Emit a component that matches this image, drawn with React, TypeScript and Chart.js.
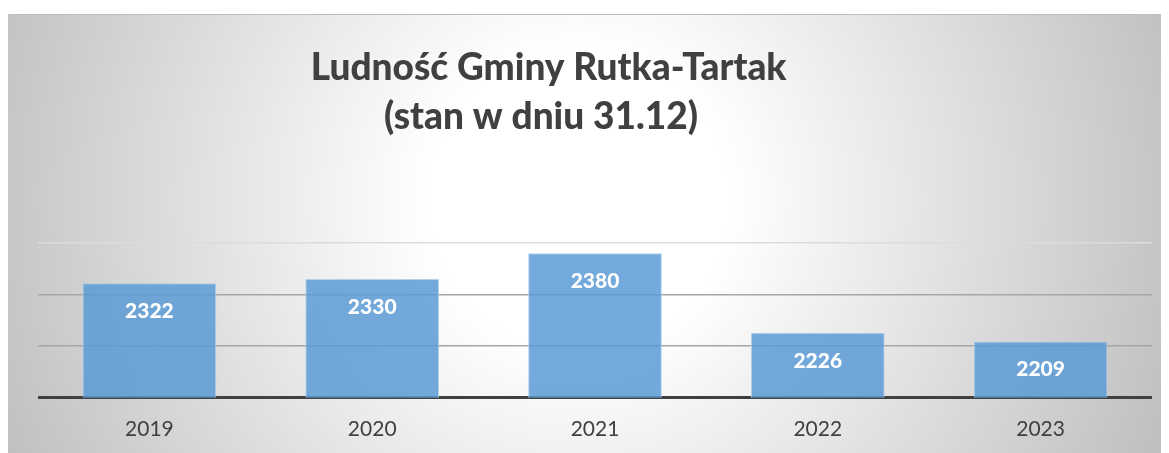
import { useEffect, useRef } from "react";
import { Chart, registerables } from "chart.js";

Chart.register(...registerables);

const titleLines = ["Ludność Gminy Rutka-Tartak", "(stan w dniu 31.12)"];
const categories = ["2019", "2020", "2021", "2022", "2023"];
const population = [2322, 2330, 2380, 2226, 2209];
const yMin = 2100;
const yMax = 2400;
const yStep = 100;

const FONT = "Lato, 'Open Sans', sans-serif";

const backgroundPlugin = {
  id: "bgGradient",
  beforeDraw(chart: any) {
    const { ctx, width, height } = chart;
    ctx.save();
    const cx = 570;
    const cy = 186;
    const g = ctx.createRadialGradient(cx, cy, 0, cx, cy, 625);
    g.addColorStop(0, "#ffffff");
    g.addColorStop(0.24, "#ffffff");
    g.addColorStop(1, "#c0c0c0");
    ctx.fillStyle = g;
    ctx.fillRect(0, 0, width, height);
    ctx.fillStyle = "#bcbcbc";
    ctx.fillRect(0, 0, width, 1);
    ctx.restore();
  },
};

const titlePlugin = {
  id: "customTitle",
  afterDraw(chart: any) {
    const { ctx } = chart;
    ctx.save();
    ctx.fillStyle = "#404040";
    ctx.textAlign = "center";
    ctx.textBaseline = "alphabetic";
    ctx.font = `900 37px ${FONT}`;
    ctx.fillText(titleLines[0], 540.7, 66);
    ctx.fillText(titleLines[1], 533, 115);
    ctx.restore();
  },
};

const valueLabelPlugin = {
  id: "valueLabels",
  afterDatasetsDraw(chart: any) {
    const { ctx } = chart;
    const meta = chart.getDatasetMeta(0);
    ctx.save();
    ctx.fillStyle = "#ffffff";
    ctx.textAlign = "center";
    ctx.textBaseline = "middle";
    ctx.font = `900 21px ${FONT}`;
    meta.data.forEach((bar: any, i: number) => {
      ctx.fillText(String(population[i]), bar.x, bar.y + 28);
    });
    ctx.restore();
  },
};

export default function App() {
  const canvasRef = useRef<HTMLCanvasElement | null>(null);

  useEffect(() => {
    document.body.style.overflow = "hidden";
    const canvas = canvasRef.current;
    if (!canvas) return;
    const chart = new Chart(canvas, {
      type: "bar",
      data: {
        labels: categories,
        datasets: [
          {
            data: population,
            backgroundColor: "rgba(91,155,213,0.85)",
            borderColor: "rgba(170,205,236,0.9)",
            borderWidth: 1,
            categoryPercentage: 1,
            barPercentage: 0.6,
          },
        ],
      },
      options: {
        responsive: false,
        animation: false,
        layout: { padding: { left: 30, right: 16, top: 229, bottom: 0 } },
        plugins: {
          legend: { display: false },
          title: { display: false },
          tooltip: { enabled: false },
        },
        scales: {
          x: {
            grid: { display: false, drawTicks: false },
            border: { display: false },
            ticks: {
              color: "#404040",
              font: { family: FONT, size: 21 },
              padding: 19,
            },
          },
          y: {
            min: yMin,
            max: yMax,
            ticks: { display: false, stepSize: yStep },
            border: { display: false },
            grid: {
              drawTicks: false,
              color: (c: any) =>
                c.tick && c.tick.value === yMin
                  ? "#404040"
                  : c.tick && c.tick.value === yMax
                  ? "#dcdcdc"
                  : "#a6a6a6",
              lineWidth: (c: any) =>
                c.tick && c.tick.value === yMin ? 3 : 1.5,
            },
          },
        },
      },
      plugins: [backgroundPlugin, titlePlugin, valueLabelPlugin],
    });
    return () => chart.destroy();
  }, []);

  return (
    <div style={{ paddingTop: 6 }}>
      <canvas
        ref={canvasRef}
        width={1160}
        height={447}
        style={{ display: "block", width: 1160, height: 447 }}
      />
    </div>
  );
}
